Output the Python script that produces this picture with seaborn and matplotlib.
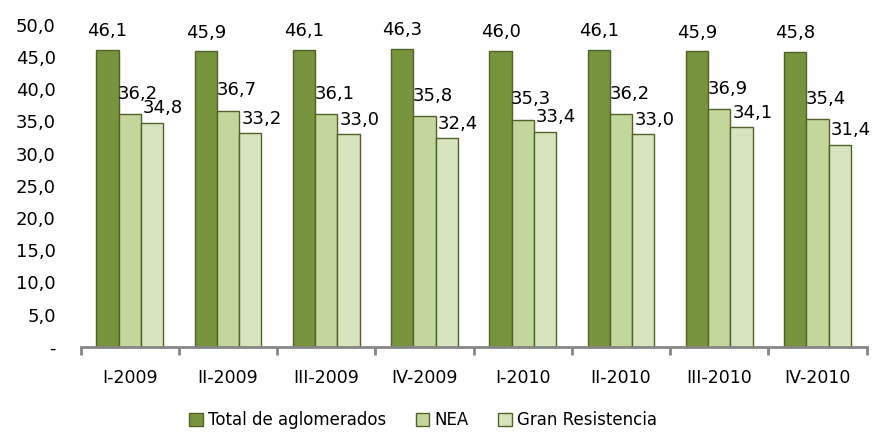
import pandas as pd
import seaborn as sns
import matplotlib.pyplot as plt
from matplotlib.patches import Patch

# Data
periods = ["I-2009", "II-2009", "III-2009", "IV-2009",
           "I-2010", "II-2010", "III-2010", "IV-2010"]
series = ["Total de aglomerados", "NEA", "Gran Resistencia"]
total = [46.1, 45.9, 46.1, 46.3, 46.0, 46.1, 45.9, 45.8]
nea = [36.2, 36.7, 36.1, 35.8, 35.3, 36.2, 36.9, 35.4]
resistencia = [34.8, 33.2, 33.0, 32.4, 33.4, 33.0, 34.1, 31.4]

colors = ["#77933C", "#C3D69B", "#D7E4BD"]
edge = "#4F6228"

df = pd.DataFrame({
    "Periodo": periods * 3,
    "Serie": [s for s in series for _ in periods],
    "Valor": total + nea + resistencia,
})

sns.set_style("white")
plt.rcParams["font.family"] = ["DejaVu Sans"]
plt.rcParams["text.color"] = "black"
plt.rcParams["xtick.color"] = "black"
plt.rcParams["ytick.color"] = "black"

fig = plt.figure(figsize=(8.75, 4.32), dpi=100)
ax = fig.add_axes([0.0922, 0.1975, 0.8983, 0.7447])

sns.barplot(data=df, x="Periodo", y="Valor", hue="Serie",
            order=periods, hue_order=series, palette=colors, saturation=1,
            width=0.68, gap=0, edgecolor=edge, linewidth=1,
            errorbar=None, legend=False, ax=ax)

# data labels (per-series offsets like the original)
offsets = {0: (0, 7.0), 1: (6, 8.0), 2: (8, 4.0)}
for i, cont in enumerate(ax.containers):
    dx, dy = offsets[i]
    for bar in cont:
        h = bar.get_height()
        ax.annotate(f"{h:.1f}".replace(".", ","),
                    (bar.get_x() + bar.get_width() / 2, h),
                    xytext=(dx, dy), textcoords="offset points",
                    ha="center", va="bottom", fontsize=13, color="black")

ax.set_ylim(0, 50)
ax.set_xlim(-0.5, len(periods) - 0.5)
yt = list(range(0, 51, 5))
ax.set_yticks(yt)
ax.set_yticklabels(["-" if v == 0 else f"{v:.1f}".replace(".", ",") for v in yt])
ax.tick_params(axis="y", left=False, length=0, pad=18, labelsize=13,
               labelcolor="black")

ax.set_xticks(range(len(periods)))
ax.set_xticklabels(periods)
ax.set_xticks([i - 0.5 for i in range(len(periods) + 1)], minor=True)
ax.tick_params(axis="x", which="major", bottom=False, length=0, pad=16,
               labelsize=12.5, labelcolor="black")
ax.tick_params(axis="x", which="minor", bottom=True, length=5.5, width=2,
               color="#868686", direction="out")
ax.set_xlabel("")
ax.set_ylabel("")

for side in ["left", "right", "top"]:
    ax.spines[side].set_visible(False)
ax.spines["bottom"].set_color("#868686")
ax.spines["bottom"].set_linewidth(2)

handles = [Patch(facecolor=c, edgecolor=edge, linewidth=1) for c in colors]
fig.legend(handles, series, loc="center", bbox_to_anchor=(423 / 875, 1 - 420 / 432),
           ncol=3, frameon=False, fontsize=12, handlelength=0.8,
           handleheight=0.8, handletextpad=0.3, columnspacing=1.8,
           labelcolor="black")

fig.savefig("out.png", dpi=100, facecolor="white")
